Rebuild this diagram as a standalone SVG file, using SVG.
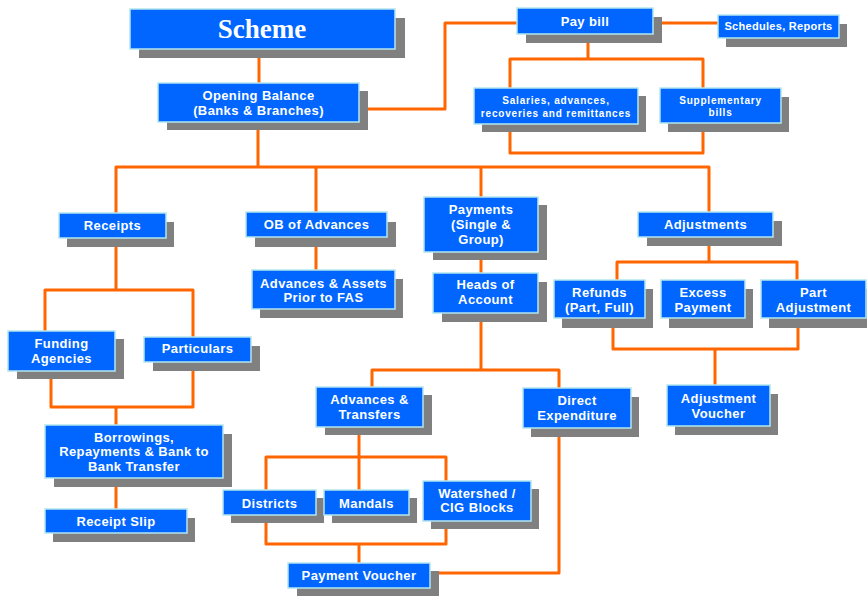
<svg xmlns="http://www.w3.org/2000/svg" width="867" height="596" viewBox="0 0 867 596">
<defs>
<style>
.sh{fill:#808080}
.bx{fill:#0066ff;stroke:#b4e6f0;stroke-width:1.5}
.t{font-family:"Liberation Sans",Arial,sans-serif;font-weight:bold;font-size:13px;letter-spacing:0.4px;fill:#ffffff;text-anchor:middle}
.s{font-size:10px;letter-spacing:0.8px}
.m{font-size:11px;letter-spacing:0.3px}
.big{font-family:"Liberation Serif","Times New Roman",serif;font-size:27px;letter-spacing:0}
.c{fill:none;stroke:#ff6600;stroke-width:3;stroke-linejoin:round;stroke-linecap:butt}
</style>
</defs>
<rect width="867" height="596" fill="#ffffff"/>
<g id="connectors" class="c">
<path d="M259 58V83"/>
<path d="M359 109H445V23H517"/>
<path d="M653 23H718"/>
<path d="M588 43V59"/>
<path d="M510 88V59H703V88"/>
<path d="M510 132V153H703V132"/>
<path d="M258 130V167"/>
<path d="M116 213V167H709V212"/>
<path d="M316 167V212"/>
<path d="M481 167V197"/>
<path d="M316 247V270"/>
<path d="M481 260V273"/>
<path d="M116 247V290"/>
<path d="M45 331V290H193V337"/>
<path d="M51 379V407H193V371"/>
<path d="M116 407V425"/>
<path d="M116 487V509"/>
<path d="M481 322V370"/>
<path d="M372 387V370H559V388"/>
<path d="M359 435V490"/>
<path d="M266 490V457H446V481"/>
<path d="M266 523V544H446V529"/>
<path d="M359 544V563"/>
<path d="M559 437V573H430"/>
<path d="M709 246V262"/>
<path d="M617 280V262H797V280"/>
<path d="M613 328V349H798V328"/>
<path d="M715 349V385"/>
</g>
<g id="scheme"><rect class="sh" x="139" y="18" width="266" height="40"/><rect class="bx" x="130" y="9" width="265" height="40"/><text class="t big" x="262" y="38">Scheme</text></g>
<g id="opening-balance"><rect class="sh" x="167" y="91" width="201" height="39"/><rect class="bx" x="158" y="83" width="201" height="39"/><text class="t" x="258.5" y="99.5">Opening Balance</text><text class="t" x="258.5" y="114.5">(Banks &amp; Branches)</text></g>
<g id="pay-bill"><rect class="sh" x="526" y="17" width="136" height="26"/><rect class="bx" x="517" y="8" width="136" height="26"/><text class="t" x="585" y="25.5">Pay bill</text></g>
<g id="schedules-reports"><rect class="sh" x="726" y="24" width="121" height="23"/><rect class="bx" x="718" y="15" width="121" height="23"/><text class="t m" x="778.5" y="30">Schedules, Reports</text></g>
<g id="salaries"><rect class="sh" x="482" y="96" width="164" height="36"/><rect class="bx" x="474" y="88" width="164" height="36"/><text class="t s" x="556" y="103.5">Salaries, advances,</text><text class="t s" x="556" y="116.5">recoveries and remittances</text></g>
<g id="supplementary-bills"><rect class="sh" x="668" y="97" width="121" height="35"/><rect class="bx" x="660" y="88" width="121" height="35"/><text class="t s" x="720.5" y="103.5">Supplementary</text><text class="t s" x="720.5" y="115.5">bills</text></g>
<g id="receipts"><rect class="sh" x="67" y="222" width="107" height="25"/><rect class="bx" x="59" y="213" width="107" height="25"/><text class="t" x="112.5" y="230">Receipts</text></g>
<g id="ob-of-advances"><rect class="sh" x="255" y="222" width="141" height="25"/><rect class="bx" x="246" y="212" width="141" height="25"/><text class="t" x="316.5" y="229">OB of Advances</text></g>
<g id="advances-assets"><rect class="sh" x="260" y="279" width="143" height="39"/><rect class="bx" x="252" y="270" width="143" height="39"/><text class="t" x="323.5" y="287.5">Advances &amp; Assets</text><text class="t" x="323.5" y="301.5">Prior to FAS</text></g>
<g id="payments"><rect class="sh" x="433" y="205" width="114" height="55"/><rect class="bx" x="424" y="197" width="114" height="55"/><text class="t" x="481" y="213.5">Payments</text><text class="t" x="481" y="228.5">(Single &amp;</text><text class="t" x="481" y="243.5">Group)</text></g>
<g id="heads-of-account"><rect class="sh" x="442" y="282" width="105" height="40"/><rect class="bx" x="433" y="273" width="105" height="40"/><text class="t" x="485.5" y="288.5">Heads of</text><text class="t" x="485.5" y="303.5">Account</text></g>
<g id="adjustments"><rect class="sh" x="647" y="221" width="135" height="25"/><rect class="bx" x="638" y="212" width="135" height="25"/><text class="t" x="705.5" y="229">Adjustments</text></g>
<g id="refunds"><rect class="sh" x="562" y="289" width="91" height="39"/><rect class="bx" x="554" y="280" width="91" height="38"/><text class="t" x="599.5" y="296.5">Refunds</text><text class="t" x="599.5" y="311.5">(Part, Full)</text></g>
<g id="excess-payment"><rect class="sh" x="669" y="289" width="84" height="39"/><rect class="bx" x="661" y="280" width="84" height="38"/><text class="t" x="703" y="296.5">Excess</text><text class="t" x="703" y="311.5">Payment</text></g>
<g id="part-adjustment"><rect class="sh" x="769" y="289" width="106" height="39"/><rect class="bx" x="761" y="280" width="105" height="38"/><text class="t" x="813.5" y="296.5">Part</text><text class="t" x="813.5" y="311.5">Adjustment</text></g>
<g id="funding-agencies"><rect class="sh" x="17" y="339" width="107" height="40"/><rect class="bx" x="8" y="331" width="107" height="40"/><text class="t" x="61.5" y="347.5">Funding</text><text class="t" x="61.5" y="362.5">Agencies</text></g>
<g id="particulars"><rect class="sh" x="153" y="346" width="107" height="25"/><rect class="bx" x="144" y="337" width="107" height="25"/><text class="t" x="197.5" y="352.5">Particulars</text></g>
<g id="borrowings"><rect class="sh" x="54" y="434" width="178" height="53"/><rect class="bx" x="45" y="425" width="178" height="53"/><text class="t" x="134" y="441.5">Borrowings,</text><text class="t" x="134" y="456">Repayments &amp; Bank to</text><text class="t" x="134" y="470.5">Bank Transfer</text></g>
<g id="receipt-slip"><rect class="sh" x="53" y="518" width="142" height="24"/><rect class="bx" x="45" y="509" width="142" height="24"/><text class="t" x="116" y="525.5">Receipt Slip</text></g>
<g id="advances-transfers"><rect class="sh" x="325" y="395" width="107" height="40"/><rect class="bx" x="316" y="387" width="107" height="40"/><text class="t" x="369.5" y="403.5">Advances &amp;</text><text class="t" x="369.5" y="418.5">Transfers</text></g>
<g id="direct-expenditure"><rect class="sh" x="531" y="397" width="108" height="40"/><rect class="bx" x="523" y="388" width="108" height="40"/><text class="t" x="577" y="404.5">Direct</text><text class="t" x="577" y="419.5">Expenditure</text></g>
<g id="districts"><rect class="sh" x="231" y="498" width="93" height="25"/><rect class="bx" x="223" y="490" width="93" height="25"/><text class="t" x="269.5" y="507.5">Districts</text></g>
<g id="mandals"><rect class="sh" x="332" y="498" width="85" height="25"/><rect class="bx" x="324" y="490" width="85" height="25"/><text class="t" x="366.5" y="507.5">Mandals</text></g>
<g id="watershed"><rect class="sh" x="431" y="489" width="108" height="40"/><rect class="bx" x="423" y="481" width="108" height="40"/><text class="t" x="477" y="497.5">Watershed /</text><text class="t" x="477" y="511.5">CIG Blocks</text></g>
<g id="payment-voucher"><rect class="sh" x="297" y="571" width="142" height="25"/><rect class="bx" x="288" y="563" width="142" height="25"/><text class="t" x="359" y="579.5">Payment Voucher</text></g>
<g id="adjustment-voucher"><rect class="sh" x="675" y="394" width="103" height="41"/><rect class="bx" x="667" y="385" width="103" height="41"/><text class="t" x="718.5" y="402.5">Adjustment</text><text class="t" x="718.5" y="417.5">Voucher</text></g>
</svg>
